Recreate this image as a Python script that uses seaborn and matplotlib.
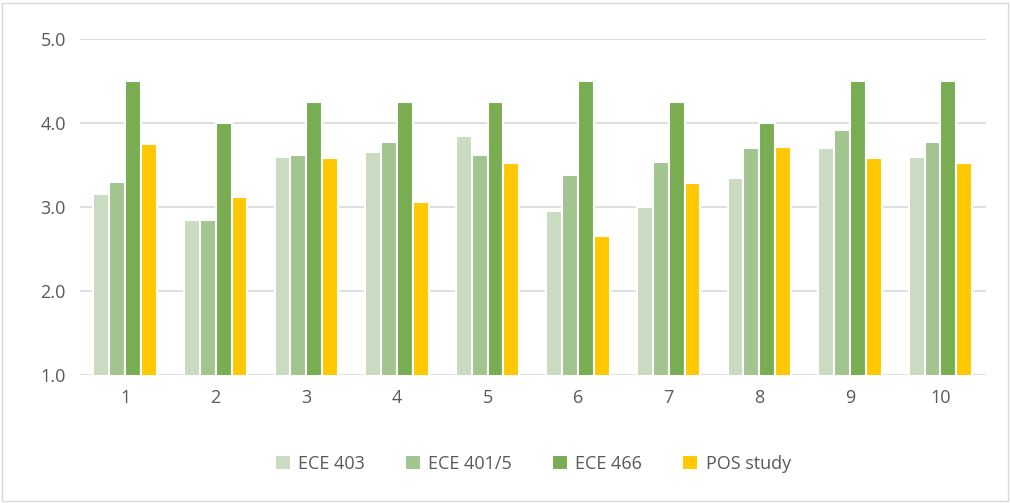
import matplotlib
matplotlib.use("Agg")
import matplotlib.pyplot as plt
import seaborn as sns
import pandas as pd

# dane
questions = ['1', '2', '3', '4', '5', '6', '7', '8', '9', '10']
ece403 = [3.15, 2.85, 3.60, 3.65, 3.85, 2.95, 3.00, 3.35, 3.70, 3.60]
ece4015 = [3.30, 2.85, 3.62, 3.77, 3.62, 3.38, 3.54, 3.70, 3.92, 3.77]
ece466 = [4.50, 4.00, 4.25, 4.25, 4.25, 4.50, 4.25, 4.00, 4.50, 4.50]
pos_study = [3.75, 3.12, 3.58, 3.06, 3.53, 2.66, 3.28, 3.72, 3.58, 3.53]
series = ['ECE 403', 'ECE 401/5', 'ECE 466', 'POS study']
colors = ['#C9DBC0', '#A2C48F', '#78AD52', '#FFC800']

df = pd.DataFrame({
    'q': questions * 4,
    'val': ece403 + ece4015 + ece466 + pos_study,
    'series': [s for s in series for _ in questions],
})

sns.set_style("white")
plt.rcParams['font.family'] = ['Open Sans', 'DejaVu Sans']

fig = plt.figure(figsize=(10.11, 5.03), dpi=100)
ax = fig.add_axes([0.079, 0.255, 0.896, 0.667])
sns.barplot(data=df, x='q', y='val', hue='series', palette=colors, saturation=1,
            width=0.7, edgecolor='white', linewidth=1.5, ax=ax, legend=True)

ax.set_ylim(1.0, 5.0)
ax.set_yticks([1.0, 2.0, 3.0, 4.0, 5.0])
ax.set_yticklabels([f'{v:.1f}' for v in [1, 2, 3, 4, 5]])
ax.yaxis.grid(True, color='#D9D9D9', linewidth=1.2)
ax.set_axisbelow(True)
for s in ax.spines.values():
    s.set_visible(False)
ax.set_xlabel('')
ax.set_ylabel('')
ax.tick_params(axis='both', colors='#595959', labelsize=13, length=0, pad=10)
ax.set_xlim(-0.5, 9.5)

ax.legend(loc='upper center', bbox_to_anchor=(0.5, -0.19), ncol=4, frameon=False,
          fontsize=13, labelcolor='#595959', handlelength=0.9, handleheight=0.9,
          columnspacing=2.2, handletextpad=0.4)

# ramka dookoła całego wykresu
fig.patches.append(plt.Rectangle((0.002, 0.004), 0.995, 0.99, transform=fig.transFigure,
                                 fill=False, edgecolor='#D9D9D9', linewidth=1))

fig.savefig('out.png', dpi=100)
